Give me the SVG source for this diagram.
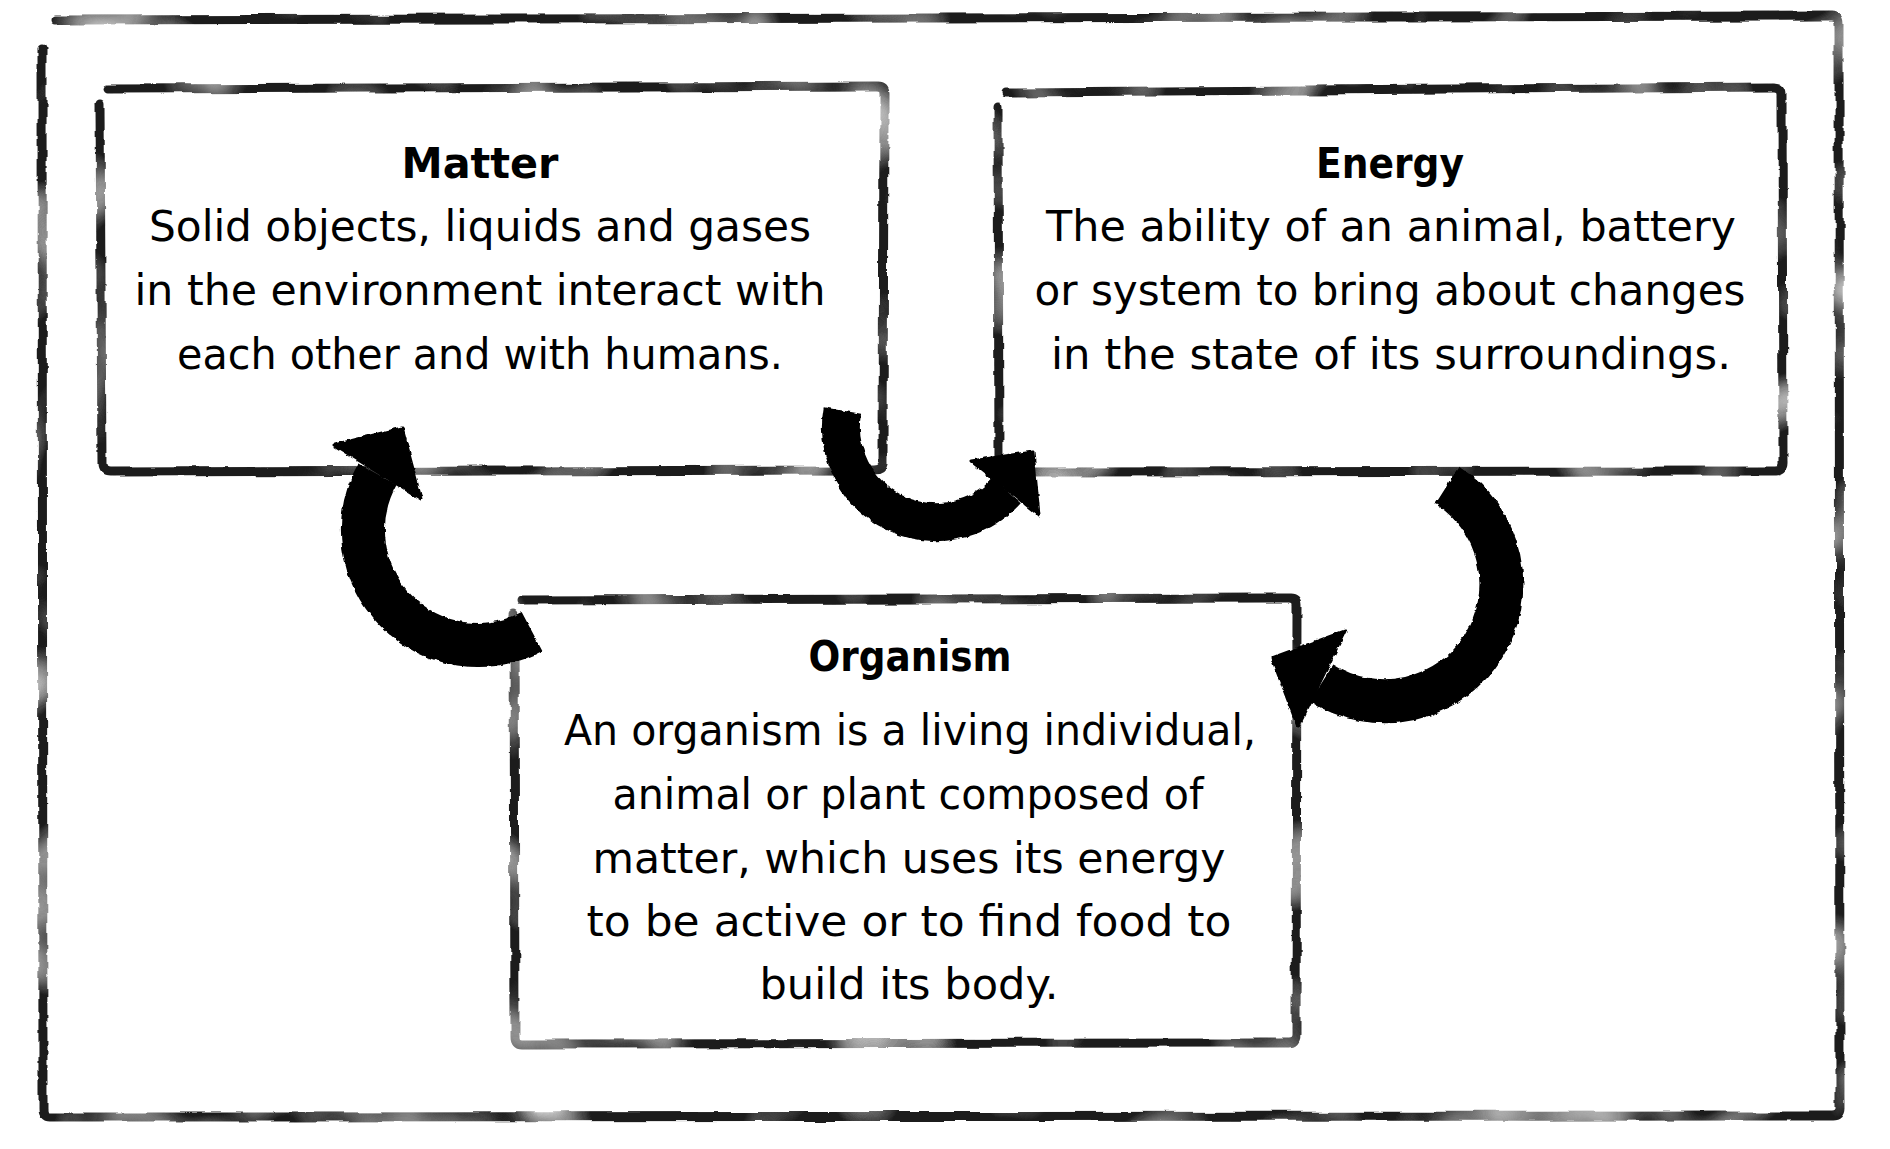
<svg xmlns="http://www.w3.org/2000/svg" width="1890" height="1149" viewBox="0 0 1890 1149">
<defs>
<filter id="rough" x="-3%" y="-3%" width="106%" height="106%">
<feTurbulence type="fractalNoise" baseFrequency="0.02 0.05" numOctaves="3" seed="7" result="n"/>
<feDisplacementMap in="SourceGraphic" in2="n" scale="6" xChannelSelector="R" yChannelSelector="G" result="d"/>
<feTurbulence type="fractalNoise" baseFrequency="0.012" numOctaves="2" seed="11" result="n2"/>
<feColorMatrix in="n2" type="matrix" values="0 0 0 0 0  0 0 0 0 0  0 0 0 0 0  2.2 0 0 0 -0.15" result="m"/>
<feComposite in="d" in2="m" operator="in"/>
</filter>
<filter id="edge" x="-10%" y="-10%" width="120%" height="120%">
<feTurbulence type="fractalNoise" baseFrequency="0.15" numOctaves="2" seed="3" result="n"/>
<feDisplacementMap in="SourceGraphic" in2="n" scale="4" xChannelSelector="R" yChannelSelector="G"/>
</filter>
<style>
.border{fill:none;stroke:#1e1e1e;stroke-width:9;stroke-linejoin:round;stroke-linecap:round}
.shaft{fill:none;stroke:#000;stroke-linecap:butt}
.head{fill:#000;stroke:#000;stroke-width:3;stroke-linejoin:round}
.t{font-family:"DejaVu Sans","Open Sans",sans-serif;font-size:42px;fill:#000;text-anchor:middle}
.title{font-weight:bold}
</style>
</defs>
<rect width="1890" height="1149" fill="#fff"/>
<g id="frame" filter="url(#rough)">
<path class="border" d="M56,20 L1832,16 Q1839,16 1839,24 L1840,1108 Q1840,1116 1832,1116 L50,1117 Q43,1117 43,1109 L42,48"/>
</g>
<g id="matter">
<path class="border" filter="url(#rough)" d="M108,89 L877,86 Q884,86 884,93 L883,464 Q882,470 874,470 L110,472 Q102,472 102,464 L100,104"/>
<text class="t title" x="480" y="178" textLength="157" lengthAdjust="spacingAndGlyphs">Matter</text>
<text class="t" x="480" y="241" textLength="662" lengthAdjust="spacingAndGlyphs">Solid objects, liquids and gases</text>
<text class="t" x="480" y="305" textLength="691" lengthAdjust="spacingAndGlyphs">in the environment interact with</text>
<text class="t" x="480" y="369" textLength="606" lengthAdjust="spacingAndGlyphs">each other and with humans.</text>
</g>
<g id="energy">
<path class="border" filter="url(#rough)" d="M1006,92 L1775,87 Q1782,87 1782,94 L1783,464 Q1783,471 1775,471 L1006,472 Q999,472 999,464 L998,108"/>
<text class="t title" x="1390" y="178" textLength="148" lengthAdjust="spacingAndGlyphs">Energy</text>
<text class="t" x="1391" y="241" textLength="690" lengthAdjust="spacingAndGlyphs">The ability of an animal, battery</text>
<text class="t" x="1390" y="305" textLength="711" lengthAdjust="spacingAndGlyphs">or system to bring about changes</text>
<text class="t" x="1391" y="369" textLength="680" lengthAdjust="spacingAndGlyphs">in the state of its surroundings.</text>
</g>
<g id="organism">
<path class="border" filter="url(#rough)" d="M522,600 L1290,598 Q1297,598 1297,605 L1296,1035 Q1296,1043 1288,1043 L522,1044 Q515,1044 515,1036 L514,614"/>
<text class="t title" x="910" y="671" textLength="203" lengthAdjust="spacingAndGlyphs">Organism</text>
<text class="t" x="910" y="745" textLength="692" lengthAdjust="spacingAndGlyphs">An organism is a living individual,</text>
<text class="t" x="908" y="809" textLength="591" lengthAdjust="spacingAndGlyphs">animal or plant composed of</text>
<text class="t" x="909" y="873" textLength="633" lengthAdjust="spacingAndGlyphs">matter, which uses its energy</text>
<text class="t" x="909" y="936" textLength="645" lengthAdjust="spacingAndGlyphs">to be active or to find food to</text>
<text class="t" x="909" y="999" textLength="299" lengthAdjust="spacingAndGlyphs">build its body.</text>
</g>
<g id="connectors" filter="url(#edge)">
<g id="arrow-matter-energy">
<path class="shaft" stroke-width="38" d="M842.4,410.5 A95,95 0 0 0 1006.6,490.6"/>
<polygon class="head" points="971,461 1033,452 1039,515"/>
</g>
<g id="arrow-organism-matter">
<path class="shaft" stroke-width="44" d="M532,631.5 A115,115 0 0 1 377.4,474.2"/>
<polygon class="head" points="334,445 402,428 421,499"/>
</g>
<g id="arrow-energy-organism">
<path class="shaft" stroke-width="44" d="M1447.2,485.4 A117,117 0 0 1 1321.6,683"/>
<polygon class="head" points="1272,658 1345,631 1298,727"/>
</g>
</g>
</svg>
